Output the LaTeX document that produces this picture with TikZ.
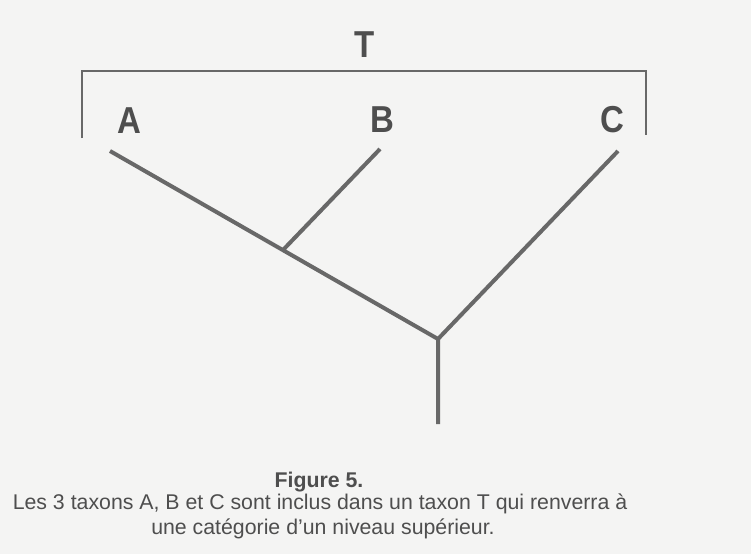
\documentclass[tikz,border=0pt]{standalone}
\usepackage{fontspec}
\setmainfont{Liberation Sans}
\definecolor{paper}{HTML}{F4F4F3}
\definecolor{ink}{HTML}{686868}
\definecolor{txt}{HTML}{4E4E4E}
\begin{document}
\begin{tikzpicture}[x=1pt,y=-1pt,
  branch/.style={draw=ink,line width=4pt,line cap=butt,line join=miter},
  bracket/.style={draw=ink,line width=1.8pt},
  taxon/.style={font=\fontsize{37.5}{40}\selectfont\bfseries,text=txt,xscale=0.88,inner sep=0pt,anchor=base},
  captxt/.style={font=\fontsize{21.3}{24}\selectfont,text=txt,inner sep=0pt,anchor=base}]
\fill[paper] (0,0) rectangle (751,554);
\useasboundingbox (0,0) rectangle (751,554);
% bracket
\coordinate (bl) at (82,138);
\coordinate (tl) at (82,71);
\coordinate (tr) at (646,71);
\coordinate (br) at (646,135);
\draw[bracket] (bl) -- (tl) -- (tr) -- (br);
\node[taxon] (T) at (364.5,57) {T};
\node[taxon] (A) at (129.5,133) {A};
\node[taxon] (B) at (382.5,132) {B};
\node[taxon] (C) at (612.5,132) {C};
% tree
\coordinate (a) at (110,151);
\coordinate (b) at (380,149);
\coordinate (c) at (618,151);
\coordinate (ab) at (283,250);
\coordinate (r) at (438,339);
\coordinate (root) at (438,424);
\draw[branch] (a) -- (r);
\draw[branch] (b) -- (ab);
\draw[branch] (c) -- (r) -- (root);
% caption
\node[captxt,font=\fontsize{21.3}{24}\selectfont\bfseries] (fig) at (319,487) {Figure 5.};
\node[captxt] (cap1) at (320,509) {Les 3 taxons A, B et C sont inclus dans un taxon T qui renverra à};
\node[captxt] (cap2) at (323,534) {une catégorie d’un niveau supérieur.};
\end{tikzpicture}
\end{document}
